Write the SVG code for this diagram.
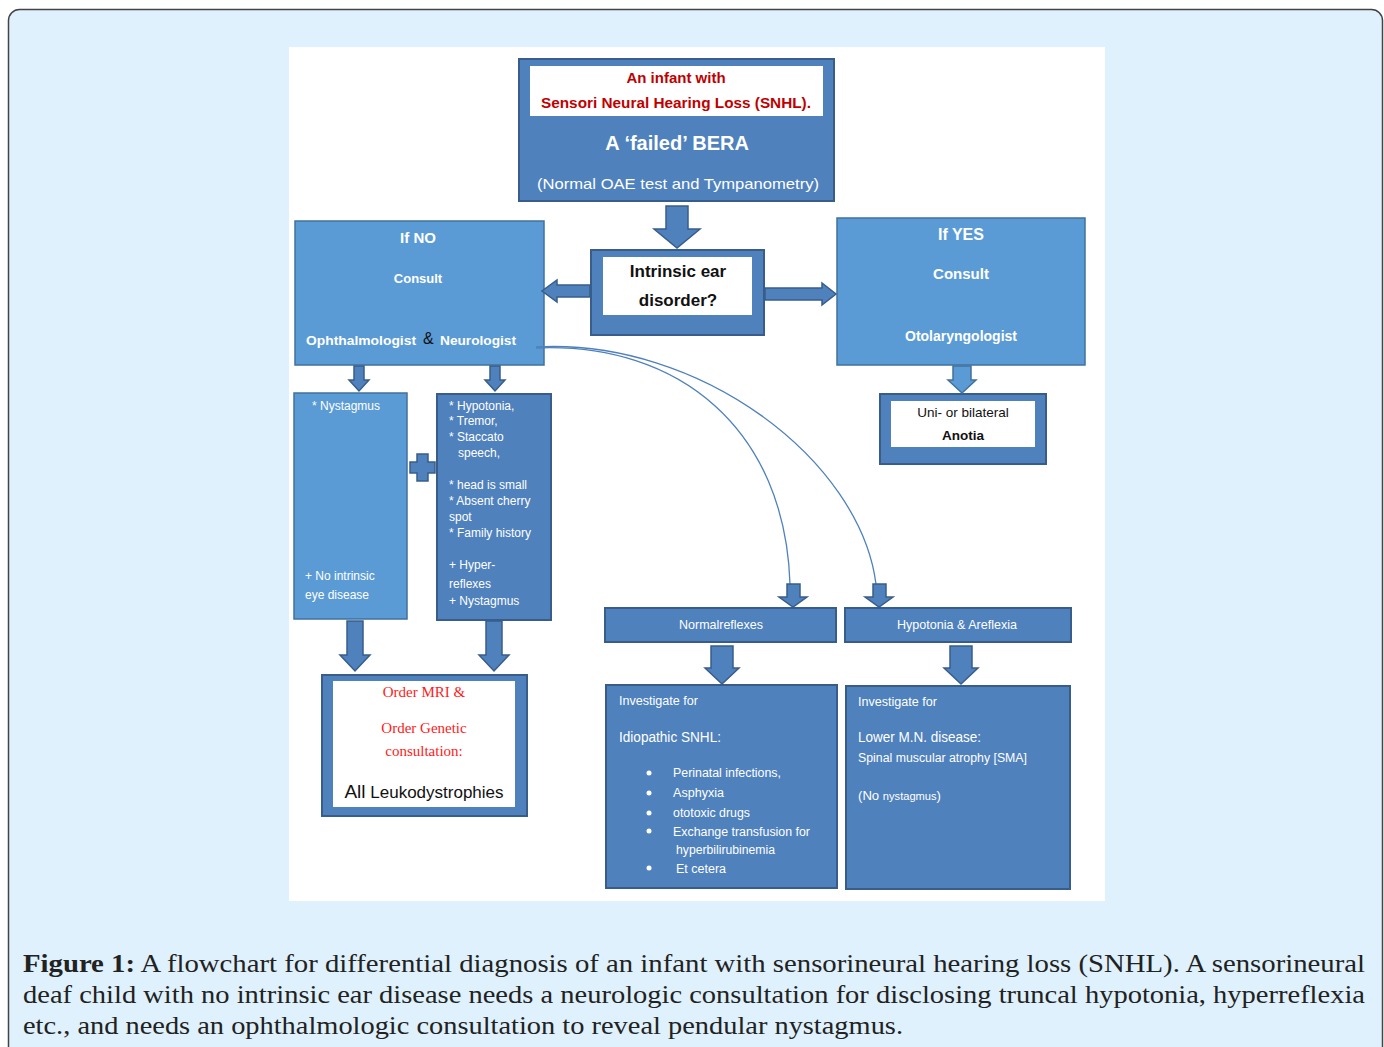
<svg xmlns="http://www.w3.org/2000/svg" width="1384" height="1047" viewBox="0 0 1384 1047">
<style>
.dk{fill:#4f81bd;stroke:#385d8a;stroke-width:2}
.lt{fill:#5b9bd5;stroke:#41719c;stroke-width:1.5}
.wh{fill:#ffffff;stroke:none}
.ar{fill:#4f81bd;stroke:#385d8a;stroke-width:1.5}
.arl{fill:#5b9bd5;stroke:#41719c;stroke-width:1.5}
.s{font-family:"Liberation Sans",Arial,sans-serif}
.w{fill:#ffffff}
.b{font-weight:bold}
.c{text-anchor:middle}
.red{fill:#c00000}
.cap{font-family:"Liberation Serif","DejaVu Serif",serif;font-size:25px;fill:#222222}
.cv{fill:none;stroke:#4f81bd;stroke-width:1.3}
</style>
<rect x="8.5" y="9.5" width="1374" height="1070" rx="11" fill="#dff1fc" stroke="#444444" stroke-width="1.5"/>
<rect x="289" y="47" width="816" height="854" fill="#ffffff"/>

<g id="top">
<rect class="dk" x="519" y="59" width="315" height="142"/>
<rect class="wh" x="530" y="66" width="293" height="50"/>
<text class="s b c red" x="676" y="83" font-size="15">An infant with</text>
<text class="s b c red" x="676" y="108" font-size="15" textLength="270" lengthAdjust="spacingAndGlyphs">Sensori Neural Hearing Loss (SNHL).</text>
<text class="s b c w" x="677" y="150" font-size="20">A ‘failed’ BERA</text>
<text class="s c w" x="678" y="189" font-size="15" textLength="282" lengthAdjust="spacingAndGlyphs">(Normal OAE test  and Tympanometry)</text>
</g>

<g id="intrinsic">
<rect class="dk" x="591" y="250" width="173" height="85"/>
<rect class="wh" x="603" y="257" width="149" height="58"/>
<text class="s b c" x="678" y="277" font-size="17" fill="#111">Intrinsic ear</text>
<text class="s b c" x="678" y="306" font-size="17" fill="#111">disorder?</text>
</g>

<g id="ifno">
<rect class="lt" x="295" y="221" width="249" height="144"/>
<text class="s b c w" x="418" y="243" font-size="15">If NO</text>
<text class="s b c w" x="418" y="283" font-size="13">Consult</text>
<text class="s b w" x="306" y="345" font-size="13.5" textLength="110" lengthAdjust="spacingAndGlyphs">Ophthalmologist</text>
<text class="s" x="423" y="344" font-size="16" fill="#111">&amp;</text>
<text class="s b w" x="440" y="345" font-size="13.5" textLength="76" lengthAdjust="spacingAndGlyphs">Neurologist</text>
</g>

<g id="ifyes">
<rect class="lt" x="837" y="218" width="248" height="147"/>
<text class="s b c w" x="961" y="240" font-size="16">If YES</text>
<text class="s b c w" x="961" y="279" font-size="15">Consult</text>
<text class="s b c w" x="961" y="341" font-size="14">Otolaryngologist</text>
</g>

<g id="anotia">
<rect class="dk" x="880" y="394" width="166" height="70"/>
<rect class="wh" x="891" y="401" width="144" height="46"/>
<text class="s c" x="963" y="417" font-size="13.5" fill="#111">Uni- or bilateral</text>
<text class="s b c" x="963" y="440" font-size="13.5" fill="#111">Anotia</text>
</g>

<g id="nystagmus">
<rect class="lt" x="294" y="393" width="113" height="226"/>
<text class="s w" x="312" y="410" font-size="12">* Nystagmus</text>
<text class="s w" x="305" y="580" font-size="12">+ No intrinsic</text>
<text class="s w" x="305" y="599" font-size="12">eye disease</text>
</g>

<g id="plus">
<path class="ar" d="M417,454 H428 V462 H435 V473 H428 V481 H417 V473 H410 V462 H417 Z"/>
</g>

<g id="neuro">
<rect class="dk" x="437" y="394" width="114" height="226"/>
<g class="s w" font-size="12">
<text x="449" y="410">* Hypotonia,</text>
<text x="449" y="425">*  Tremor,</text>
<text x="449" y="441">* Staccato</text>
<text x="458" y="457">speech,</text>
<text x="449" y="489">* head is small</text>
<text x="449" y="505">* Absent cherry</text>
<text x="449" y="521">spot</text>
<text x="449" y="537">* Family history</text>
<text x="449" y="569">+ Hyper-</text>
<text x="449" y="588">reflexes</text>
<text x="449" y="605">+ Nystagmus</text>
</g>
</g>

<g id="mri">
<rect class="dk" x="322" y="675" width="205" height="141" stroke-width="2.5"/>
<rect class="wh" x="333" y="681" width="182" height="126"/>
<g font-family="Liberation Serif,serif" font-size="15" fill="#ff2020" text-anchor="middle">
<text x="424" y="697">Order MRI &amp;</text>
<text x="424" y="733">Order Genetic</text>
<text x="424" y="756">consultation:</text>
</g>
<text class="s c" x="424" y="798" font-size="17" fill="#111"><tspan font-size="19">All</tspan> Leukodystrophies</text>
</g>

<g id="normal">
<rect class="dk" x="605" y="608" width="231" height="34"/>
<text class="s c w" x="721" y="629" font-size="13" textLength="84" lengthAdjust="spacingAndGlyphs">Normalreflexes</text>
</g>

<g id="hypo">
<rect class="dk" x="845" y="608" width="226" height="34"/>
<text class="s c w" x="957" y="629" font-size="13" textLength="120" lengthAdjust="spacingAndGlyphs">Hypotonia &amp; Areflexia</text>
</g>

<g id="inv1">
<rect class="dk" x="606" y="685" width="231" height="203"/>
<g class="s w">
<text x="619" y="705" font-size="13" textLength="79" lengthAdjust="spacingAndGlyphs">Investigate for</text>
<text x="619" y="742" font-size="14" textLength="102" lengthAdjust="spacingAndGlyphs">Idiopathic SNHL:</text>
<g font-size="12.5">
<circle cx="649" cy="773" r="2.5" fill="#fff"/>
<circle cx="649" cy="793" r="2.5" fill="#fff"/>
<circle cx="649" cy="813" r="2.5" fill="#fff"/>
<circle cx="649" cy="831" r="2.5" fill="#fff"/>
<circle cx="649" cy="868" r="2.5" fill="#fff"/>
<text x="673" y="777" textLength="108" lengthAdjust="spacingAndGlyphs">Perinatal infections,</text>
<text x="673" y="797" textLength="51" lengthAdjust="spacingAndGlyphs">Asphyxia</text>
<text x="673" y="817" textLength="77" lengthAdjust="spacingAndGlyphs">ototoxic drugs</text>
<text x="673" y="836" textLength="137" lengthAdjust="spacingAndGlyphs">Exchange transfusion for</text>
<text x="676" y="854" textLength="99" lengthAdjust="spacingAndGlyphs">hyperbilirubinemia</text>
<text x="676" y="873" textLength="50" lengthAdjust="spacingAndGlyphs">Et cetera</text>
</g>
</g>
</g>

<g id="inv2">
<rect class="dk" x="846" y="686" width="224" height="203"/>
<g class="s w">
<text x="858" y="706" font-size="13" textLength="79" lengthAdjust="spacingAndGlyphs">Investigate for</text>
<text x="858" y="742" font-size="14" textLength="123" lengthAdjust="spacingAndGlyphs">Lower M.N. disease:</text>
<text x="858" y="762" font-size="12.5" textLength="169" lengthAdjust="spacingAndGlyphs">Spinal muscular atrophy [SMA]</text>
<text x="858" y="800" font-size="13" textLength="83" lengthAdjust="spacingAndGlyphs">(No <tspan font-size="11">nystagmus</tspan>)</text>
</g>
</g>

<g id="connectors">
<path class="ar" d="M666,206 H688 V229 H700 L677,248 L654,229 H666 Z"/>
<path class="ar" d="M590,285 H557 V280 L542,291 L557,302 V297 H590 Z"/>
<path class="ar" d="M765,288 H822 V283 L836,294 L822,305 V300 H765 Z"/>
<path class="ar" d="M354,366 H364 V380 H369 L359,391 L349,380 H354 Z"/>
<path class="ar" d="M490,366 H500 V380 H505 L495,391 L485,380 H490 Z"/>
<path class="arl" d="M953,366 H971 V380 H976 L962,393 L948,380 H953 Z"/>
<path class="ar" d="M347,621 H363 V655 H370 L355,671 L340,655 H347 Z"/>
<path class="ar" d="M486,621 H502 V655 H509 L494,671 L479,655 H486 Z"/>
<path class="cv" d="M536,348 C 680,342 785,430 790,584"/>
<path class="cv" d="M536,347 C 700,338 860,460 876,584"/>
<path class="ar" d="M787,584 H800 V597 H807 L793,607 L779,597 H787 Z"/>
<path class="ar" d="M873,584 H886 V597 H893 L879,607 L865,597 H873 Z"/>
<path class="ar" d="M711,646 H733 V668 H739 L722,684 L705,668 H711 Z"/>
<path class="ar" d="M950,646 H972 V668 H978 L961,684 L944,668 H950 Z"/>
</g>

<g id="caption" class="cap">
<text x="23" y="972" textLength="1342" lengthAdjust="spacingAndGlyphs"><tspan font-weight="bold">Figure 1:</tspan> A flowchart for differential diagnosis of an infant with sensorineural hearing loss (SNHL). A sensorineural</text>
<text x="23" y="1003" textLength="1342" lengthAdjust="spacingAndGlyphs">deaf child with no intrinsic ear disease needs a neurologic consultation for disclosing truncal hypotonia, hyperreflexia</text>
<text x="23" y="1034" textLength="880" lengthAdjust="spacingAndGlyphs">etc., and needs an ophthalmologic consultation to reveal pendular nystagmus.</text>
</g>
</svg>
